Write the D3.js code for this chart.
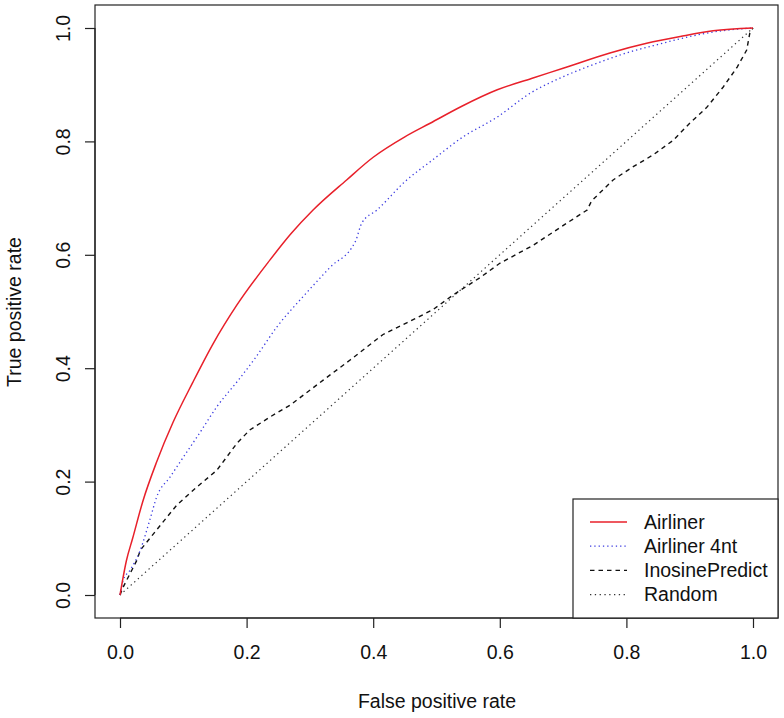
<!DOCTYPE html>
<html><head><meta charset="utf-8">
<script src="https://cdn.jsdelivr.net/npm/d3@7"></script>
<style>body{margin:0;background:#fff}svg{display:block}text{font-family:"Liberation Sans",Arial,sans-serif}</style>
</head><body><svg id="c" width="784" height="718"></svg>
<script>
const xTicks=[0,0.2,0.4,0.6,0.8,1.0];
const yTicks=[0,0.2,0.4,0.6,0.8,1.0];
const airliner=[[0,0],[0.01,0.06],[0.02,0.10],[0.036,0.165],[0.058,0.235],[0.084,0.305],[0.115,0.375],[0.147,0.443],[0.185,0.512],[0.237,0.591],[0.27,0.637],[0.305,0.679],[0.358,0.732],[0.4,0.772],[0.45,0.808],[0.49,0.832],[0.54,0.862],[0.596,0.891],[0.65,0.911],[0.7,0.929],[0.774,0.956],[0.832,0.973],[0.885,0.985],[0.937,0.995],[1,1]];
const airliner4nt=[[0,0],[0.005,0.026],[0.016,0.044],[0.032,0.079],[0.047,0.132],[0.058,0.173],[0.079,0.208],[0.1,0.243],[0.126,0.286],[0.153,0.332],[0.187,0.379],[0.215,0.42],[0.248,0.473],[0.289,0.526],[0.332,0.578],[0.372,0.624],[0.382,0.656],[0.406,0.679],[0.453,0.732],[0.49,0.764],[0.542,0.808],[0.596,0.843],[0.648,0.885],[0.7,0.914],[0.754,0.938],[0.8,0.956],[0.85,0.971],[0.9,0.985],[0.95,0.995],[1,1]];
const inosine=[[0,0],[0.005,0.014],[0.027,0.062],[0.032,0.079],[0.058,0.115],[0.09,0.159],[0.121,0.19],[0.153,0.22],[0.185,0.268],[0.205,0.291],[0.237,0.314],[0.269,0.335],[0.321,0.379],[0.363,0.414],[0.415,0.459],[0.453,0.48],[0.494,0.503],[0.526,0.529],[0.569,0.56],[0.6,0.585],[0.653,0.617],[0.706,0.656],[0.738,0.679],[0.745,0.695],[0.779,0.732],[0.81,0.755],[0.842,0.776],[0.874,0.802],[0.9,0.832],[0.927,0.86],[0.953,0.896],[0.975,0.931],[0.99,0.961],[0.995,0.991],[1,1]];
const randomLine=[[0,0],[1,1]];
const legendLabels=["Airliner","Airliner 4nt","InosinePredict","Random"];

const FS=19.5;
const svg=d3.select("#c");
const x=d3.scaleLinear().domain([0,1]).range([120,753]);
const y=d3.scaleLinear().domain([0,1]).range([595,28]);
const L=95,R=778,T=5,B=618;
svg.append("rect").attr("x",L).attr("y",T).attr("width",R-L).attr("height",B-T).attr("fill","none").attr("stroke","#222").attr("stroke-width",1.2);

const xa=svg.append("g").attr("transform",`translate(0,${B})`).call(d3.axisBottom(x).tickValues(xTicks).tickFormat(d3.format(".1f")).tickSize(10).tickPadding(17));
const ya=svg.append("g").attr("transform",`translate(${L},0)`).call(d3.axisLeft(y).tickValues(yTicks).tickFormat(d3.format(".1f")).tickSize(10).tickPadding(12));
[xa,ya].forEach(g=>{g.select(".domain").attr("stroke","#222").attr("stroke-width",1.2);g.selectAll(".tick line").attr("stroke","#222").attr("stroke-width",1.2);g.selectAll("text").attr("font-size",FS).attr("fill","#111").attr("font-family","Liberation Sans, Arial, sans-serif");});
xa.select(".domain").attr("d",`M${x(0)},0V0H${x(1)}V0`);
ya.select(".domain").attr("d",`M0,${y(0)}H0V${y(1)}H0`);
ya.selectAll(".tick").each(function(){const t=d3.select(this).select("text");t.attr("text-anchor","middle").attr("x",null).attr("transform",`translate(-32,0) rotate(-90)`).attr("dy","0.35em");});

svg.append("text").attr("x",437).attr("y",708).attr("text-anchor","middle").attr("font-size",FS).attr("fill","#111").text("False positive rate");
svg.append("text").attr("transform","translate(21,312) rotate(-90)").attr("text-anchor","middle").attr("font-size",FS).attr("fill","#111").text("True positive rate");

const smooth=d3.line().x(d=>x(d[0])).y(d=>y(d[1])).curve(d3.curveMonotoneX);
const straight=d3.line().x(d=>x(d[0])).y(d=>y(d[1]));
const styles=[
 {data:airliner,stroke:"#e8202a",dash:null,w:1.5,gen:smooth},
 {data:airliner4nt,stroke:"#3a3ae0",dash:"1.3,3",w:1.3,gen:smooth},
 {data:inosine,stroke:"#111",dash:"4.5,4",w:1.4,gen:straight},
 {data:randomLine,stroke:"#333",dash:"1.3,3.5",w:1.2,gen:straight}
];
const plotG=svg.append("g");
[3,2,1,0].forEach(i=>{const s=styles[i];plotG.append("path").datum(s.data).attr("d",s.gen).attr("fill","none").attr("stroke",s.stroke).attr("stroke-width",s.w).attr("stroke-dasharray",s.dash);});

const lg=svg.append("g");
lg.append("rect").attr("x",573).attr("y",499).attr("width",R-573).attr("height",B-499).attr("fill","#fff").attr("stroke","#222").attr("stroke-width",1.2);
legendLabels.forEach((lab,i)=>{const yy=522+i*24.2;const s=styles[i];
 lg.append("line").attr("x1",590).attr("x2",627).attr("y1",yy).attr("y2",yy).attr("stroke",s.stroke).attr("stroke-width",s.w).attr("stroke-dasharray",s.dash);
 lg.append("text").attr("x",644).attr("y",yy).attr("dy","0.35em").attr("font-size",FS).attr("fill","#111").text(lab);});
</script></body></html>
